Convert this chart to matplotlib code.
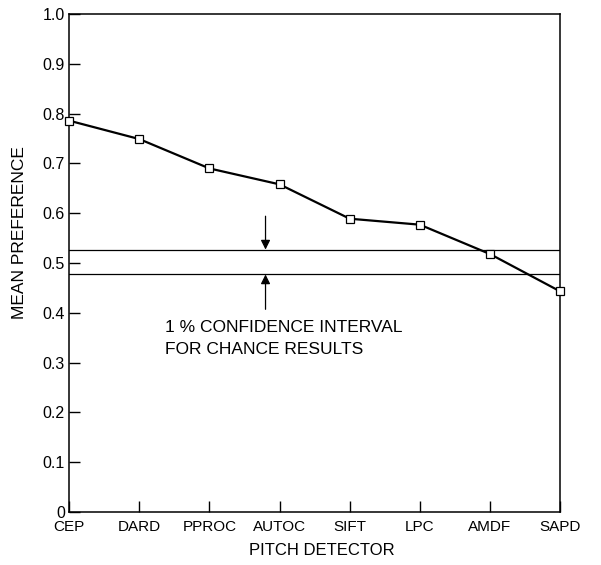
import matplotlib
matplotlib.use("Agg")
import matplotlib.pyplot as plt
from matplotlib.ticker import FixedLocator

detectors = ["CEP", "DARD", "PPROC", "AUTOC", "SIFT", "LPC", "AMDF", "SAPD"]
preference = [0.786, 0.749, 0.690, 0.658, 0.589, 0.577, 0.518, 0.443]
conf_low, conf_high = 0.477, 0.527
yticks = [0, 0.1, 0.2, 0.3, 0.4, 0.5, 0.6, 0.7, 0.8, 0.9, 1.0]
ytick_labels = ["0", "0.1", "0.2", "0.3", "0.4", "0.5", "0.6", "0.7", "0.8", "0.9", "1.0"]

plt.rcParams['font.family'] = ['Liberation Sans', 'DejaVu Sans']

fig = plt.figure(figsize=(6.01, 5.65), dpi=100)
ax = fig.add_axes([0.115, 0.094, 0.817, 0.881])

x = list(range(len(detectors)))
ax.axhline(conf_high, color='black', lw=0.9)
ax.axhline(conf_low, color='black', lw=0.9)
ax.plot(x, preference, color='black', lw=1.6, marker='s', ms=6,
        mfc='white', mec='black', mew=0.9, clip_on=False, zorder=5)

# arrows pointing at the confidence band
ax.annotate("", xy=(2.8, conf_high), xytext=(2.8, conf_high + 0.067),
            arrowprops=dict(arrowstyle='-|>', color='black', lw=0.9,
                            mutation_scale=14, shrinkA=0, shrinkB=0))
ax.annotate("", xy=(2.8, conf_low), xytext=(2.8, conf_low - 0.07),
            arrowprops=dict(arrowstyle='-|>', color='black', lw=0.9,
                            mutation_scale=14, shrinkA=0, shrinkB=0))
ax.text(1.37, 0.348, "1 % CONFIDENCE INTERVAL\nFOR CHANCE RESULTS",
        fontsize=12.5, va='center', ha='left', linespacing=1.55)

ax.set_xlim(0, len(detectors) - 1)
ax.set_ylim(0, 1.0)
ax.set_xticks(x)
ax.set_xticklabels(detectors, fontsize=11)
ax.yaxis.set_major_locator(FixedLocator(yticks))
ax.set_yticklabels(ytick_labels, fontsize=11.5)
ax.tick_params(direction='in', length=8, width=1, pad=3)
ax.tick_params(axis='x', pad=6)
for s in ax.spines.values():
    s.set_linewidth(1.1)

ax.set_xlabel("PITCH DETECTOR", fontsize=12, labelpad=6)
ax.xaxis.set_label_coords(0.515, -0.062)
ax.set_ylabel("MEAN PREFERENCE", fontsize=12.5)
ax.yaxis.set_label_coords(-0.085, 0.562)

fig.savefig("out.png", dpi=100)
